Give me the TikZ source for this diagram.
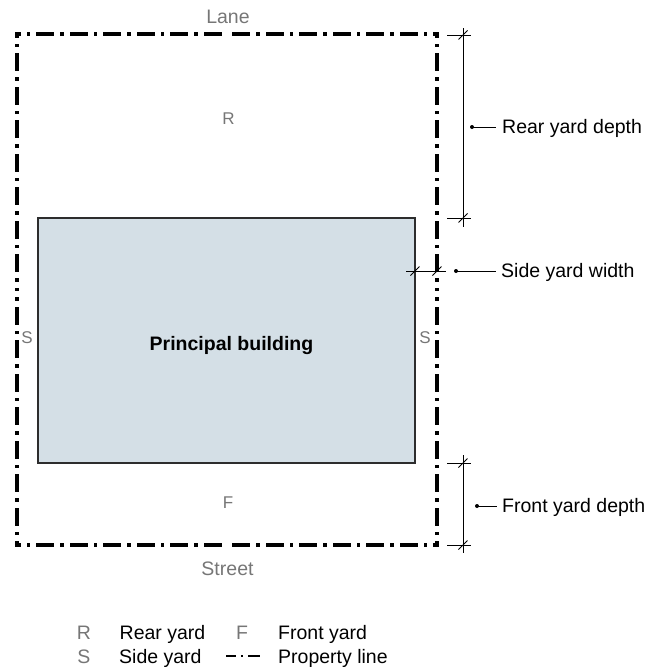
\documentclass[tikz,border=0pt]{standalone}
\usepackage{fontspec}
\setmainfont{Liberation Sans}
\definecolor{bldgfill}{RGB}{212,223,230}
\definecolor{bldgedge}{RGB}{45,45,45}
\definecolor{labelgray}{RGB}{118,118,118}
\begin{document}
\begin{tikzpicture}[x=1pt,y=-1pt,
  propline/.style={line width=3.2pt, line cap=rect, dash pattern=on 14.6pt off 9.4pt on 0.1pt off 9.4pt, dash phase=12.5pt},
  bldg/.style={draw=bldgedge, line width=1.4pt, fill=bldgfill, inner sep=0pt, minimum width=377pt, minimum height=245pt},
  dimline/.style={draw=black, line width=0.9pt},
  leader/.style={draw=black, line width=0.9pt},
  txt/.style={font=\fontsize{19.5}{23}\selectfont, inner sep=0pt, anchor=base west},
  zone/.style={font=\fontsize{17}{20}\selectfont, text=labelgray, inner sep=0pt, anchor=base},
  road/.style={font=\fontsize{19.5}{23}\selectfont, text=labelgray, inner sep=0pt, anchor=base},
  legkey/.style={font=\fontsize{19.5}{23}\selectfont, text=labelgray, inner sep=0pt, anchor=base},
  legtxt/.style={font=\fontsize{19.5}{23}\selectfont, inner sep=0pt, anchor=base west},
  dot/.style={circle, fill=black, inner sep=0pt, minimum size=4pt}
]
\useasboundingbox (0,0) rectangle (661,667);

% property line corners and mid points
\coordinate (lotnw) at (17,34);
\coordinate (lotne) at (437,34);
\coordinate (lotse) at (437,545);
\coordinate (lotsw) at (17,545);
\coordinate (lotn) at (227,34);
\coordinate (lots) at (227,545);
\coordinate (lote) at (437,289.5);
\coordinate (lotw) at (17,289.5);

% building
\node[bldg] (bldg) at (226.5,340.5) {};
\node[font=\bfseries\fontsize{19.5}{23}\selectfont, inner sep=0pt, anchor=base] (pb) at (231.5,350.5) {Principal building};

% property line
\foreach \a/\b in {lotnw/lotn, lotne/lotn, lotne/lote, lotse/lote, lotse/lots, lotsw/lots, lotsw/lotw, lotnw/lotw}
  \draw[propline] (\a) -- (\b);

% labels on the plan
\node[road] (lane) at (228,23.3) {Lane};
\node[road] (street) at (227.5,575) {Street};
\node[zone] (zr) at (228.5,124) {R};
\node[zone] (zf) at (228,508) {F};
\node[zone] (zsl) at (27,343) {S};
\node[zone] (zsr) at (425,343) {S};

% rear yard depth
\coordinate (r1a) at (447,35);  \coordinate (r1b) at (471,35);
\coordinate (r2a) at (447,218); \coordinate (r2b) at (471,218);
\coordinate (rt) at (463,28);   \coordinate (rb) at (463,227);
\coordinate (rk1) at (463,35);  \coordinate (rk2) at (463,218);
\draw[dimline] (r1a) -- (r1b);
\draw[dimline] (r2a) -- (r2b);
\draw[dimline] (rt) -- (rb);
\foreach \p in {rk1,rk2} \draw[dimline] (\p) ++(-4.5,4.5) -- ++(9,-9);
\node[dot] (rdot) at (472,127) {};
\coordinate (rlend) at (496,127);
\draw[leader] (rdot.center) -- (rlend);
\node[txt] (rtxt) at (502,133.5) {Rear yard depth};

% side yard width
\coordinate (sa) at (406,271); \coordinate (sb) at (446,271);
\coordinate (sk1) at (415,271); \coordinate (sk2) at (437,271);
\draw[dimline] (sa) -- (sb);
\foreach \p in {sk1,sk2} \draw[dimline] (\p) ++(-4.5,4.5) -- ++(9,-9);
\node[dot] (sdot) at (456,271) {};
\coordinate (slend) at (496,271);
\draw[leader] (sdot.center) -- (slend);
\node[txt] (stxt) at (501,277.5) {Side yard width};

% front yard depth
\coordinate (f1a) at (447,463); \coordinate (f1b) at (471,463);
\coordinate (f2a) at (447,545); \coordinate (f2b) at (471,545);
\coordinate (ft) at (463,455);  \coordinate (fb) at (463,553);
\coordinate (fk1) at (463,463); \coordinate (fk2) at (463,545);
\draw[dimline] (f1a) -- (f1b);
\draw[dimline] (f2a) -- (f2b);
\draw[dimline] (ft) -- (fb);
\foreach \p in {fk1,fk2} \draw[dimline] (\p) ++(-4.5,4.5) -- ++(9,-9);
\node[dot] (fdot) at (477,506) {};
\coordinate (flend) at (497,506);
\draw[leader] (fdot.center) -- (flend);
\node[txt] (ftxt) at (502,512.5) {Front yard depth};

% legend
\node[legkey] (lr) at (84,639.5) {R};
\node[legtxt] (lrt) at (119.5,639.5) {Rear yard};
\node[legkey] (lf) at (242,639.5) {F};
\node[legtxt] (lft) at (278,639.5) {Front yard};
\node[legkey] (ls) at (84,663.3) {S};
\node[legtxt] (lst) at (119,663.3) {Side yard};
\coordinate (lpa) at (226,656); \coordinate (lpb) at (260,656);
\draw[line width=2.2pt, dash pattern=on 10pt off 5pt on 2pt off 5pt on 20pt] (lpa) -- (lpb);
\node[legtxt] (lpt) at (278,663.3) {Property line};
\end{tikzpicture}
\end{document}
